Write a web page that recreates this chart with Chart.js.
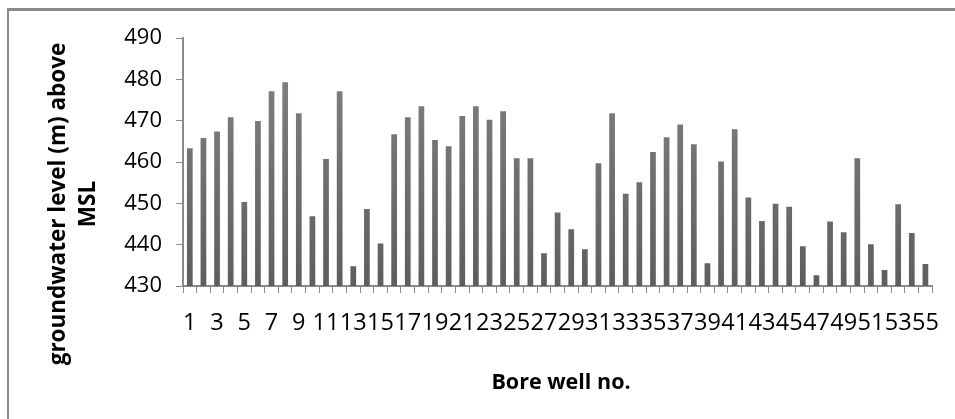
<!DOCTYPE html>
<html>
<head>
<meta charset="utf-8">
<script src="https://cdn.jsdelivr.net/npm/chart.js@4"></script>
<style>
  html, body { margin: 0; padding: 0; background: #fff; }
  #wrap { position: relative; width: 955px; height: 419px; overflow: hidden; }
  #frame { position: absolute; left: 7px; top: 8px; width: 960px; height: 430px;
           border-left: 2px solid #8a8a8a; border-top: 3px solid #8a8a8a; box-sizing: border-box; }
  canvas { position: absolute; left: 0; top: 0; }
  .title { position: absolute; font-family: "Open Sans", sans-serif; font-weight: bold; color: #000; }
  #ytitle { left: 72px; top: 204px; width: 380px; text-align: center; font-size: 22.5px; line-height: 30px;
            transform: translate(-50%, -50%) rotate(-90deg); white-space: nowrap; }
  #xtitle { left: 561px; top: 380px; font-size: 21.5px; transform: translate(-50%, -50%); white-space: nowrap; }
</style>
</head>
<body>
<div id="wrap">
  <div id="frame"></div>
  <canvas id="chart" width="955" height="419"></canvas>
  <div id="ytitle" class="title">groundwater level (m) above<br>MSL</div>
  <div id="xtitle" class="title">Bore well no.</div>
</div>
<script>
/* ---------- DATA ---------- */

const wellNumbers = Array.from({ length: 55 }, (_, i) => String(i + 1));

const groundwaterLevels = [
  463.3, 465.8, 467.4, 470.8, 450.3, 469.9, 477.1, 479.3, 471.8, 446.9,
  460.7, 477.1, 434.8, 448.6, 440.3, 466.7, 470.8, 473.5, 465.3, 463.8,
  471.1, 473.5, 470.2, 472.3, 460.9, 460.9, 437.9, 447.8, 443.7, 438.9,
  459.7, 471.8, 452.3, 455.1, 462.4, 466.0, 469.1, 464.3, 435.5, 460.1,
  467.9, 451.4, 445.7, 449.9, 449.2, 439.6, 432.6, 445.6, 443.0, 460.9,
  440.1, 433.9, 449.8, 442.8, 435.3
];

const yMin = 430;
const yMax = 490;
const yStep = 10;

/* ---------- CHART ---------- */

function barFill(ctx) {
  const area = ctx.chart.chartArea;
  if (!area) return '#777';
  const g = ctx.chart.ctx.createLinearGradient(0, area.top, 0, area.bottom);
  g.addColorStop(0, '#858585');
  g.addColorStop(1, '#5e5e5e');
  return g;
}

const axisGray = '#8a8a8a';

new Chart(document.getElementById('chart'), {
  type: 'bar',
  data: {
    labels: wellNumbers,
    datasets: [{
      data: groundwaterLevels,
      backgroundColor: barFill,
      borderWidth: 0,
      barPercentage: 0.5,
      categoryPercentage: 0.84
    }]
  },
  options: {
    responsive: false,
    animation: false,
    events: [],
    layout: { padding: { top: 38, right: 17, left: 0, bottom: 0 } },
    plugins: { legend: { display: false }, tooltip: { enabled: false } },
    scales: {
      x: {
        grid: { drawOnChartArea: false, drawTicks: true, tickLength: 7, color: axisGray },
        border: { color: axisGray, width: 2 },
        ticks: {
          autoSkip: false,
          maxRotation: 0,
          minRotation: 0,
          padding: 16,
          color: '#000',
          font: { family: '"Open Sans", sans-serif', size: 23.5 },
          callback: (v, i) => (i % 2 === 0 ? wellNumbers[i] : '')
        },
        afterFit: s => { s.height = 133; }
      },
      y: {
        min: yMin,
        max: yMax,
        grid: { drawOnChartArea: false, drawTicks: true, tickLength: 7, color: axisGray },
        border: { color: axisGray, width: 2 },
        ticks: { stepSize: yStep, padding: 14, color: '#000', font: { family: '"Open Sans", sans-serif', size: 22 } },
        afterFit: s => { s.width = 183; }
      }
    }
  }
});
</script>
</body>
</html>
